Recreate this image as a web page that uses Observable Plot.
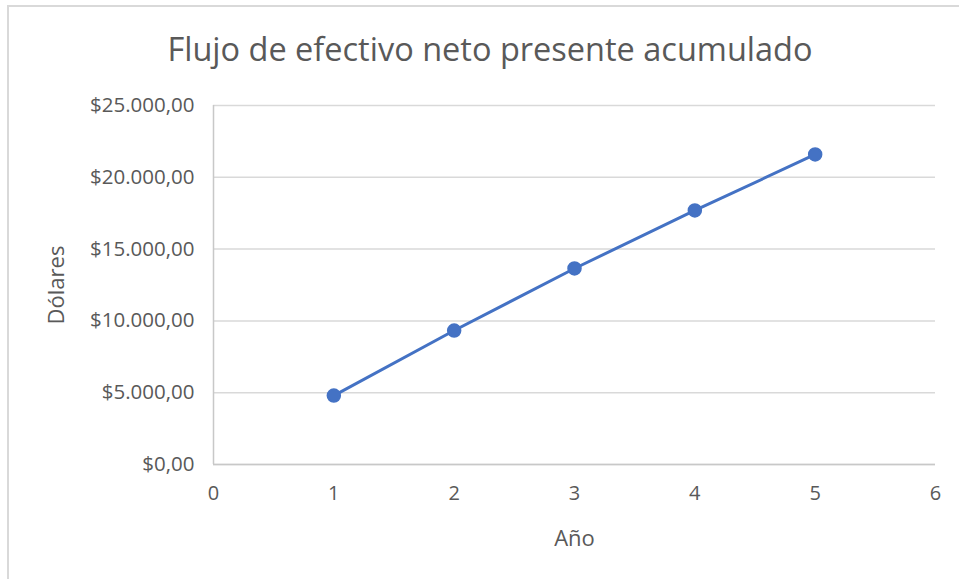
<!DOCTYPE html>
<html>
<head>
<meta charset="utf-8">
<script src="https://cdn.jsdelivr.net/npm/d3@7"></script>
<script src="https://cdn.jsdelivr.net/npm/@observablehq/plot@0.6"></script>
<style>
  html, body { margin: 0; padding: 0; background: #fff; }
  body { width: 959px; height: 579px; position: relative; overflow: hidden; font-family: "Open Sans", sans-serif; }
  #frame { position: absolute; left: 7px; top: 5px; right: -10px; bottom: -10px; border-top: 2px solid #d9d9d9; border-left: 2px solid #d9d9d9; }
  #title { position: absolute; left: 0; top: 0; width: 980px; height: 88px; text-align: center; font-size: 32.5px; line-height: 1; padding-top: 33px; box-sizing: border-box; color: #595959; }
  #chart { position: absolute; left: 0; top: 88px; }
</style>
</head>
<body>
<div id="frame"></div>
<div id="title">Flujo de efectivo neto presente acumulado</div>
<div id="chart"></div>
<script>
const years = [1, 2, 3, 4, 5];
const values = [4800, 9330, 13650, 17690, 21590];
const yTicks = [0, 5000, 10000, 15000, 20000, 25000];
const xTicks = [0, 1, 2, 3, 4, 5, 6];
const xLabel = "Año";
const yLabel = "Dólares";

const data = years.map((y, i) => ({year: y, value: values[i]}));
const locale = d3.formatLocale({decimal: ",", thousands: ".", grouping: [3], currency: ["$", ""]});
const fmt = locale.format("$,.2f");

const W = 959, H = 491;
const chart = Plot.plot({
  width: W,
  height: H,
  marginLeft: 213,
  marginRight: 24,
  marginTop: 17,
  marginBottom: 115,
  style: {fontFamily: "'Open Sans', sans-serif", color: "#595959", background: "transparent", overflow: "visible"},
  x: {domain: [0, 6], ticks: xTicks},
  y: {domain: [0, 25000], ticks: yTicks},
  marks: [
    Plot.gridY(yTicks, {stroke: "#d9d9d9", strokeOpacity: 1, strokeWidth: 1.5}),
    Plot.ruleX([0], {stroke: "#c8c8c8", strokeWidth: 1.5}),
    Plot.ruleY([0], {stroke: "#c8c8c8", strokeWidth: 1.5}),
    Plot.axisY(yTicks, {tickSize: 0, tickPadding: 19, tickFormat: fmt, fontSize: 20.5, label: null, fill: "#595959"}),
    Plot.axisX(xTicks, {tickSize: 0, tickPadding: 21, tickFormat: d => String(d), fontSize: 20, label: null, fill: "#595959"}),
    Plot.text([xLabel], {frameAnchor: "bottom", dy: 81, fontSize: 22, fill: "#595959"}),
    Plot.text([yLabel], {frameAnchor: "left", textAnchor: "middle", dx: -157, rotate: -90, fontSize: 22, fill: "#595959"}),
    Plot.line(data, {x: "year", y: "value", stroke: "#4472C4", strokeWidth: 3}),
    Plot.dot(data, {x: "year", y: "value", r: 6.5, fill: "#4472C4", stroke: "#4472C4"})
  ]
});
document.getElementById("chart").appendChild(chart);
</script>
</body>
</html>
